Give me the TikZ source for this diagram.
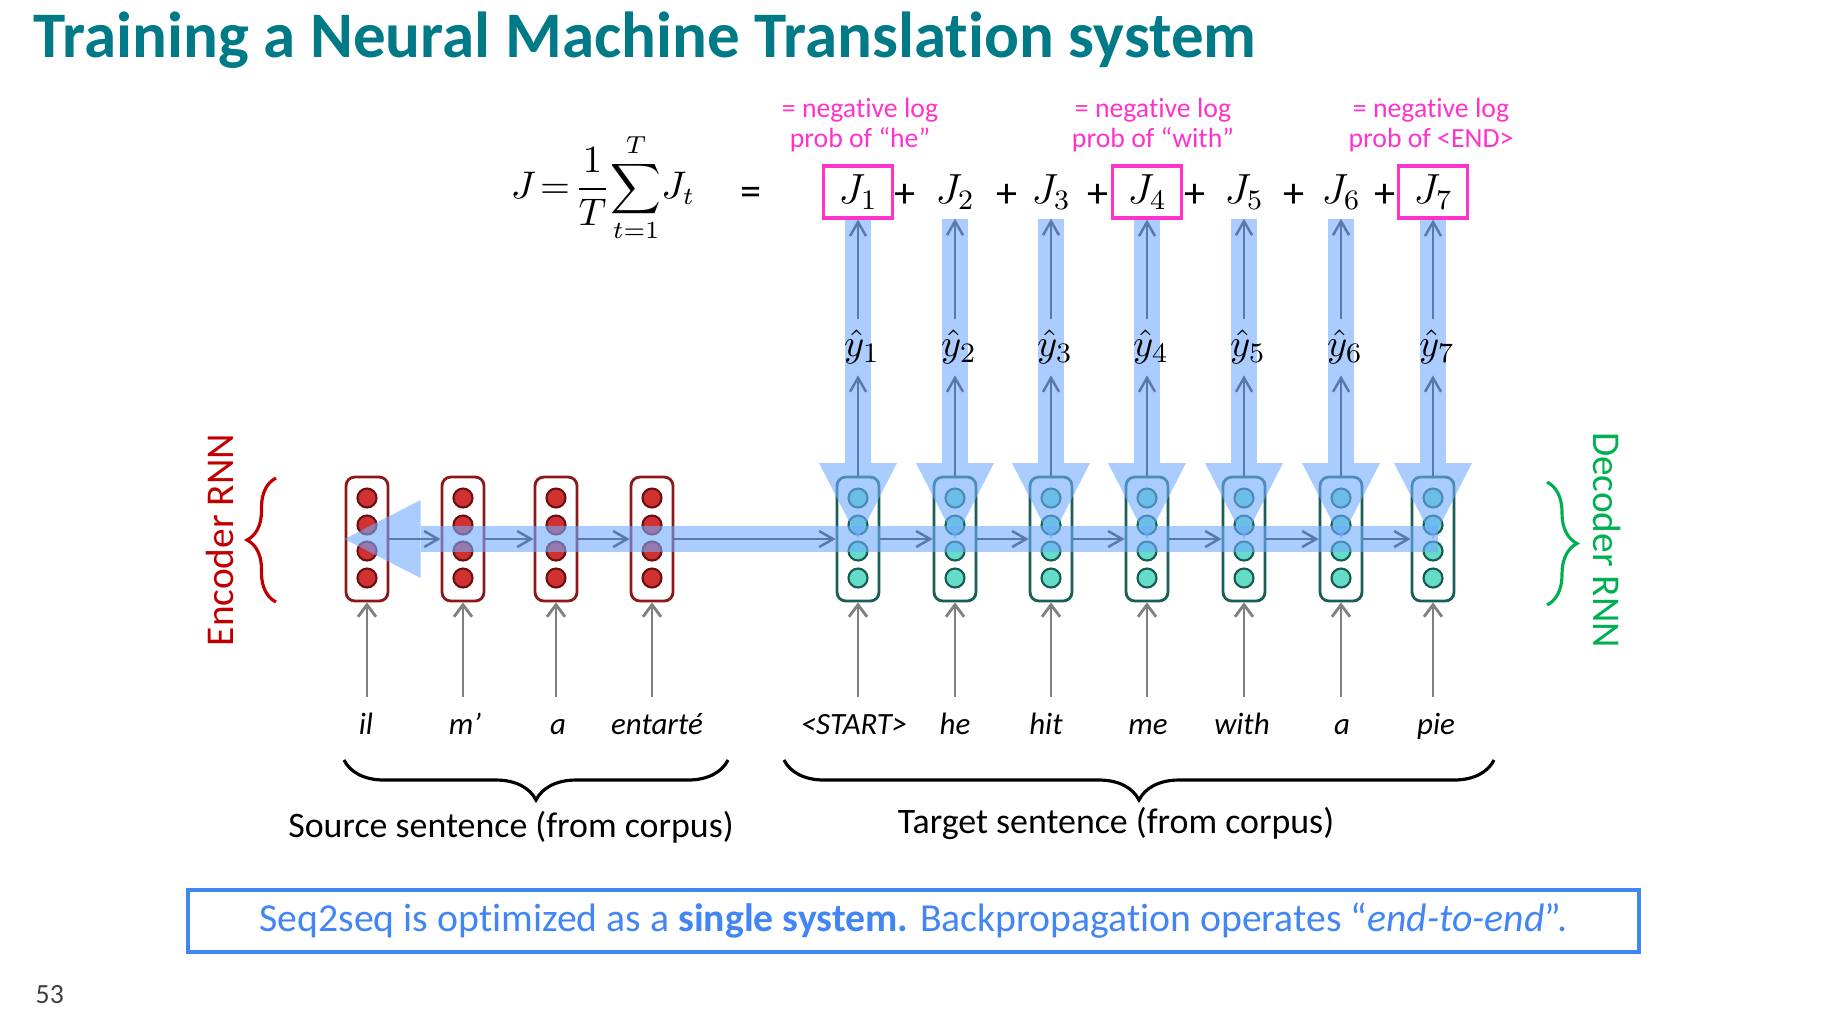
\documentclass[tikz,border=0pt]{standalone}
\usepackage{fontspec}
\setmainfont{Carlito}[Ligatures=CommonOff]
\usetikzlibrary{arrows.meta,positioning,calc,decorations.pathreplacing}
\definecolor{titleteal}{RGB}{0,122,135}
\definecolor{negmag}{RGB}{255,51,204}
\definecolor{encred}{RGB}{192,0,0}
\definecolor{encline}{RGB}{140,25,25}
\definecolor{encfill}{RGB}{208,50,50}
\definecolor{encdot}{RGB}{110,15,15}
\definecolor{decgreen}{RGB}{0,176,80}
\definecolor{decline}{RGB}{25,95,85}
\definecolor{decfill}{RGB}{100,220,200}
\definecolor{decdot}{RGB}{25,90,80}
\definecolor{flowblue}{RGB}{113,170,255}
\definecolor{linkblue}{RGB}{90,120,170}
\definecolor{feedgray}{RGB}{128,128,128}
\definecolor{noteblue}{RGB}{66,133,244}

\begin{document}
\begin{tikzpicture}[x=0.1mm, y=-0.1mm,
    cell/.style n args={3}{draw=#1, line width=0.8pt, rounded corners=2.5pt, fill=white, minimum width=4.2mm, minimum height=12.4mm, inner sep=0pt,
        path picture={\foreach \d in {-41,-14,12,39} \draw[draw=#2, fill=#3, line width=0.6pt] ($(path picture bounding box.center)+(0,\d)$) circle[radius=0.95mm];}},
    enccell/.style={cell={encline}{encdot}{encfill}},
    deccell/.style={cell={decline}{decdot}{decfill}},
    flow/.style={line width=2.6mm, draw=flowblue, opacity=0.6, -{Triangle[width=7.8mm, length=7.6mm, line width=0pt]}},
    link/.style={draw=linkblue, line width=0.7pt, -{Straight Barb[length=1.4mm, width=1.6mm]}},
    feed/.style={draw=feedgray, line width=0.8pt, -{Straight Barb[length=1.2mm, width=1.8mm]}},
    word/.style={font=\fontsize{8.8}{10}\selectfont\itshape, text height=7pt, text depth=2pt, inner sep=0pt, outer sep=3.8pt},
    loss/.style={font=\fontsize{12}{14}\selectfont, minimum width=6.9mm, minimum height=5.2mm, inner sep=0pt},
    pick/.style={loss, draw=negmag, line width=0.9pt},
    plus/.style={font=\fontsize{12}{14}\selectfont, inner sep=0pt},
    note/.style={font=\fontsize{7.9}{8.6}\selectfont, text=negmag, align=center},
    yhat/.style={font=\fontsize{11}{13}\selectfont, inner sep=3pt},
    curly/.style={decorate, decoration={brace, amplitude=#1}, line width=0.9pt}
]
    \useasboundingbox (0,0) rectangle (1838,1011);

    % title and formula
    \node[anchor=base west, font=\fontsize{18.5}{22}\selectfont\bfseries, text=titleteal, inner sep=0pt] (title) at (33,57) {Training a Neural Machine Translation system};
    \node[font=\fontsize{10.5}{12}\selectfont] (cost) at (603,188) {$\displaystyle J\!=\!\frac{1}{T}\!\sum_{t=1}^{T}\!J_t$};
    \node[plus] (eq) at (751,196) {=};

    \node[pick] (J1) at (858,192) {$J_1$};
    \node[loss] (J2) at (955,192) {$J_2$};
    \node[loss] (J3) at (1051,192) {$J_3$};
    \node[pick] (J4) at (1147,192) {$J_4$};
    \node[loss] (J5) at (1244,192) {$J_5$};
    \node[loss] (J6) at (1341,192) {$J_6$};
    \node[pick] (J7) at (1433,192) {$J_7$};
    \node[plus] at (905,196) {+};
    \node[plus] at (1007,196) {+};
    \node[plus] at (1098,196) {+};
    \node[plus] at (1195,196) {+};
    \node[plus] at (1294,196) {+};
    \node[plus] at (1385,196) {+};

    \node[note] (note1) at (860,125) {= negative log\\prob of “he”};
    \node[note] (note4) at (1153,125) {= negative log\\prob of “with”};
    \node[note] (note7) at (1431,125) {= negative log\\prob of <END>};

    % encoder and decoder cells
    \node[enccell] (enc1) at (367,539) {};
    \node[enccell] (enc2) at (463,539) {};
    \node[enccell] (enc3) at (556,539) {};
    \node[enccell] (enc4) at (652,539) {};
    \node[deccell] (dec1) at (858,539) {};
    \node[deccell] (dec2) at (955,539) {};
    \node[deccell] (dec3) at (1051,539) {};
    \node[deccell] (dec4) at (1147,539) {};
    \node[deccell] (dec5) at (1244,539) {};
    \node[deccell] (dec6) at (1341,539) {};
    \node[deccell] (dec7) at (1433,539) {};

    % backpropagation flow
    \draw[flow] ([xshift=0.5mm]dec7.center) -- (enc1.west);
    \draw[flow] (J1.south) -- (dec1.center);
    \draw[flow] (J2.south) -- (dec2.center);
    \draw[flow] (J3.south) -- (dec3.center);
    \draw[flow] (J4.south) -- (dec4.center);
    \draw[flow] (J5.south) -- (dec5.center);
    \draw[flow] (J6.south) -- (dec6.center);
    \draw[flow] (J7.south) -- (dec7.center);

    % outputs
    \node[yhat] (yh1) at (862,347) {$\hat{y}_1$};
    \node[yhat] (yh2) at (959,347) {$\hat{y}_2$};
    \node[yhat] (yh3) at (1055,347) {$\hat{y}_3$};
    \node[yhat] (yh4) at (1151,347) {$\hat{y}_4$};
    \node[yhat] (yh5) at (1248,347) {$\hat{y}_5$};
    \node[yhat] (yh6) at (1345,347) {$\hat{y}_6$};
    \node[yhat] (yh7) at (1437,347) {$\hat{y}_7$};

    % recurrent links
    \draw[link] (enc1) -- (enc2);
    \draw[link] (enc2) -- (enc3);
    \draw[link] (enc3) -- (enc4);
    \draw[link] (enc4) -- (dec1);
    \draw[link] (dec1) -- (dec2);
    \draw[link] (dec2) -- (dec3);
    \draw[link] (dec3) -- (dec4);
    \draw[link] (dec4) -- (dec5);
    \draw[link] (dec5) -- (dec6);
    \draw[link] (dec6) -- (dec7);

    \draw[link] (dec1) -- (dec1 |- yh1.south);
    \draw[link] (dec2) -- (dec2 |- yh2.south);
    \draw[link] (dec3) -- (dec3 |- yh3.south);
    \draw[link] (dec4) -- (dec4 |- yh4.south);
    \draw[link] (dec5) -- (dec5 |- yh5.south);
    \draw[link] (dec6) -- (dec6 |- yh6.south);
    \draw[link] (dec7) -- (dec7 |- yh7.south);
    \draw[link] (yh1.north -| J1) -- (J1);
    \draw[link] (yh2.north -| J2) -- (J2);
    \draw[link] (yh3.north -| J3) -- (J3);
    \draw[link] (yh4.north -| J4) -- (J4);
    \draw[link] (yh5.north -| J5) -- (J5);
    \draw[link] (yh6.north -| J6) -- (J6);
    \draw[link] (yh7.north -| J7) -- (J7);

    % input words
    \node[word] (w1) at (366,726) {il};
    \node[word] (w2) at (465,726) {m’};
    \node[word] (w3) at (558,726) {a};
    \node[word] (w4) at (657,726) {entarté};
    \node[word] (w5) at (854,726) {<START>};
    \node[word] (w6) at (955,726) {he};
    \node[word] (w7) at (1046,726) {hit};
    \node[word] (w8) at (1148,726) {me};
    \node[word] (w9) at (1242,726) {with};
    \node[word] (w10) at (1342,726) {a};
    \node[word] (w11) at (1436,726) {pie};

    \draw[feed] (enc1 |- w1.north) -- (enc1);
    \draw[feed] (enc2 |- w2.north) -- (enc2);
    \draw[feed] (enc3 |- w3.north) -- (enc3);
    \draw[feed] (enc4 |- w4.north) -- (enc4);
    \draw[feed] (dec1 |- w5.north) -- (dec1);
    \draw[feed] (dec2 |- w6.north) -- (dec2);
    \draw[feed] (dec3 |- w7.north) -- (dec3);
    \draw[feed] (dec4 |- w8.north) -- (dec4);
    \draw[feed] (dec5 |- w9.north) -- (dec5);
    \draw[feed] (dec6 |- w10.north) -- (dec6);
    \draw[feed] (dec7 |- w11.north) -- (dec7);

    % braces and side labels
    \draw[curly=2.9mm, encred] (276,602) -- (276,478);
    \node[rotate=90, font=\fontsize{11.2}{13}\selectfont, text=encred] (enclabel) at (220,540) {Encoder RNN};
    \draw[curly=3mm, decgreen] (1547,482) -- (1547,605);
    \node[rotate=-90, font=\fontsize{11.2}{13}\selectfont, text=decgreen] (declabel) at (1607,540) {Decoder RNN};

    \draw[curly=4mm] (728,760) -- (344,760);
    \draw[curly=4mm] (1494,760) -- (784,760);
    \node[font=\fontsize{10.2}{12}\selectfont] (source) at (511,827) {Source sentence (from corpus)};
    \node[font=\fontsize{10.2}{12}\selectfont] (target) at (1116,823) {Target sentence (from corpus)};

    % bottom note
    \node[draw=noteblue, line width=0.9pt, minimum width=145.1mm, minimum height=6.2mm, font=\fontsize{11.3}{13}\selectfont, text=noteblue] (summary) at (913.5,921)
        {Seq2seq is optimized as a \textbf{single system.} Backpropagation operates “\textit{end-to-end}”.};
    \node[anchor=base west, font=\fontsize{7.9}{9}\selectfont, text=black!75, inner sep=0pt] (page) at (35,1003) {53};
\end{tikzpicture}
\end{document}
